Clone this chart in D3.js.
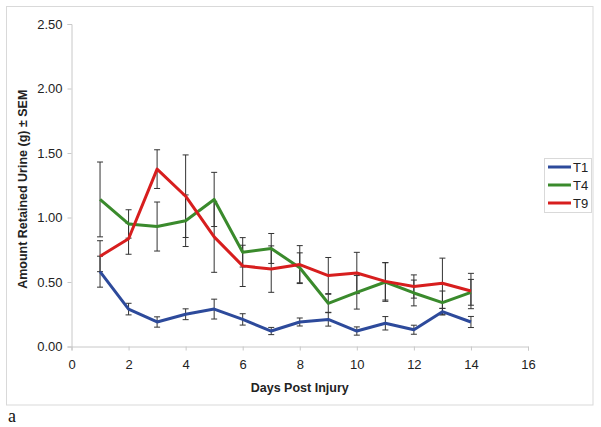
<!DOCTYPE html>
<html>
<head>
<meta charset="utf-8">
<script src="https://cdn.jsdelivr.net/npm/d3@7"></script>
<style>
  body { margin: 0; background: #fff; }
  svg { display: block; font-family: "Liberation Sans", Arial, sans-serif; }
</style>
</head>
<body>
<svg id="chart" width="601" height="427"></svg>
<script>
const days = [1, 2, 3, 4, 5, 6, 7, 8, 9, 10, 11, 12, 13, 14];
const seriesNames = ["T1", "T4", "T9"];
const t1Values = [0.58, 0.29, 0.19, 0.25, 0.29, 0.21, 0.12, 0.19, 0.21, 0.12, 0.18, 0.13, 0.27, 0.19];
const t1Sem    = [0.12, 0.045, 0.04, 0.042, 0.077, 0.044, 0.028, 0.031, 0.052, 0.032, 0.052, 0.035, 0.026, 0.043];
const t4Values = [1.14, 0.95, 0.93, 0.975, 1.14, 0.73, 0.76, 0.61, 0.335, 0.42, 0.50, 0.415, 0.34, 0.42];
const t4Sem    = [0.29, 0.11, 0.19, 0.20, 0.21, 0.114, 0.116, 0.116, 0.07, 0.13, 0.15, 0.10, 0.09, 0.10];
const t9Values = [0.70, 0.835, 1.375, 1.165, 0.85, 0.625, 0.60, 0.635, 0.55, 0.57, 0.505, 0.465, 0.49, 0.43];
const t9Sem    = [0.12, 0.12, 0.15, 0.32, 0.275, 0.16, 0.18, 0.147, 0.14, 0.16, 0.145, 0.09, 0.195, 0.137];
const xTicks = [0, 2, 4, 6, 8, 10, 12, 14, 16];
const yTicks = [0, 0.5, 1.0, 1.5, 2.0, 2.5];
const colors = ["#2d4a9b", "#3a8a2c", "#d71e1e"];

const series = [
  { name: seriesNames[0], values: t1Values, sem: t1Sem, color: colors[0] },
  { name: seriesNames[1], values: t4Values, sem: t4Sem, color: colors[1] },
  { name: seriesNames[2], values: t9Values, sem: t9Sem, color: colors[2] }
];

const svg = d3.select("#chart");

// outer frame
svg.append("rect")
  .attr("x", 6.5).attr("y", 6.5).attr("width", 586.5).attr("height", 398.5)
  .attr("fill", "#fff").attr("stroke", "#d9d9d9").attr("stroke-width", 1);

const x = d3.scaleLinear().domain([0, 16]).range([71.5, 528]);
const y = d3.scaleLinear().domain([0, 2.5]).range([346.5, 24]);

// axes
const yAxis = svg.append("g")
  .attr("transform", `translate(${x(0)},0)`)
  .call(d3.axisLeft(y).tickValues(yTicks).tickFormat(d3.format(".2f")).tickSize(4).tickPadding(5));
const xAxis = svg.append("g")
  .attr("transform", `translate(0,${y(0)})`)
  .call(d3.axisBottom(x).tickValues(xTicks).tickFormat(d3.format("d")).tickSize(4).tickPadding(9));
[yAxis, xAxis].forEach(g => {
  g.select(".domain").attr("stroke", "#c8c8c8");
  g.selectAll(".tick line").attr("stroke", "#c8c8c8");
  g.selectAll(".tick text").attr("fill", "#222").style("font-size", "13px")
    .style("font-family", "'Liberation Sans', Arial, sans-serif");
});

// axis titles
svg.append("text")
  .attr("transform", `translate(27,${(y(0) + y(2.5)) / 2 + 4}) rotate(-90)`)
  .attr("text-anchor", "middle")
  .attr("font-size", "12.5px").attr("font-weight", "bold").attr("fill", "#222")
  .text("Amount Retained Urine (g) ± SEM");
svg.append("text")
  .attr("x", x(8)).attr("y", 392)
  .attr("text-anchor", "middle")
  .attr("font-size", "12.5px").attr("font-weight", "bold").attr("fill", "#222")
  .text("Days Post Injury");

// error bars
const capW = 3;
series.forEach(s => {
  const g = svg.append("g").attr("stroke", "#333").attr("stroke-width", 1).attr("fill", "none");
  days.forEach((d, i) => {
    const v = s.values[i], e = s.sem[i];
    const cx = x(d);
    g.append("line").attr("x1", cx).attr("x2", cx).attr("y1", y(v - e)).attr("y2", y(v + e));
    g.append("line").attr("x1", cx - capW).attr("x2", cx + capW).attr("y1", y(v + e)).attr("y2", y(v + e));
    g.append("line").attr("x1", cx - capW).attr("x2", cx + capW).attr("y1", y(v - e)).attr("y2", y(v - e));
  });
});

// lines
const line = d3.line().x(d => x(d[0])).y(d => y(d[1]));
series.forEach(s => {
  svg.append("path")
    .datum(days.map((d, i) => [d, s.values[i]]))
    .attr("d", line)
    .attr("fill", "none")
    .attr("stroke", s.color)
    .attr("stroke-width", 3)
    .attr("stroke-linejoin", "round");
});

// legend
const lg = svg.append("g");
lg.append("rect").attr("x", 544.5).attr("y", 158.5).attr("width", 47).attr("height", 54)
  .attr("fill", "#fff").attr("stroke", "#d9d9d9");
series.forEach((s, i) => {
  const ly = 167 + i * 18;
  lg.append("line").attr("x1", 548).attr("x2", 571).attr("y1", ly).attr("y2", ly)
    .attr("stroke", s.color).attr("stroke-width", 3);
  lg.append("text").attr("x", 573).attr("y", ly + 5).attr("font-size", "13px").attr("fill", "#222").text(s.name);
});

// panel label
svg.append("text").attr("x", 8).attr("y", 422)
  .attr("font-family", "'Liberation Serif', 'Times New Roman', serif")
  .attr("font-size", "18px").attr("fill", "#111").text("a");
</script>
</body>
</html>
